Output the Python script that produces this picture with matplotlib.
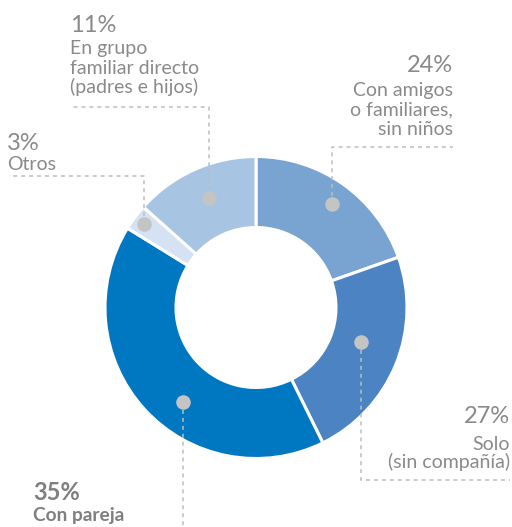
import numpy as np
import matplotlib
matplotlib.use("Agg")
import matplotlib.pyplot as plt

# share labels as printed on the chart (clockwise from 12 o'clock)
pct = [24, 27, 35, 3, 11]
names = [["Con amigos", "o familiares,", "sin niños"],
         ["Solo", "(sin compañía)"],
         ["Con pareja"],
         ["Otros"],
         ["En grupo", "familiar directo", "(padres e hijos)"]]
arc_share = [19.6, 23.1, 41.1, 2.8, 13.4]
colors = ["#79a3d1", "#4b83c3", "#0078c1", "#d4e2f3", "#a7c4e3"]

W, H = 512, 527
def Y(y):
    return H - y

plt.rcParams['font.family'] = ['Lato', 'DejaVu Sans']
fig = plt.figure(figsize=(W / 100, H / 100), dpi=100)
ax = fig.add_axes([0, 0, 1, 1])

cx, cy, R, ring = 256, 307.5, 151, 71
wedges, _ = ax.pie(arc_share, colors=colors, startangle=90, counterclock=False,
                   center=(cx, Y(cy)), radius=R,
                   wedgeprops=dict(width=ring, edgecolor="white", linewidth=2.2))
ax.set_xlim(0, W)
ax.set_ylim(0, H)
ax.axis("off")

# label layout: dot angle nudge, dot radius, leader line y, text edge x, align,
# baseline of % and baselines of the text lines
layout = [
    dict(da=-1, r=128, ly=147.3, ex=453, ha="right", pb=72, lb=[96, 115, 135], bold=False),
    dict(da=4, r=110, ly=480, ex=510, ha="right", pb=423, lb=[450, 468], bold=False),
    dict(da=10, r=120, ly=None, ex=33, ha="left", pb=500.5, lb=[521], bold=True),
    dict(da=0, r=140, ly=175.7, ex=7, ha="left", pb=150, lb=[170], bold=False),
    dict(da=-1, r=119, ly=106.7, ex=70, ha="left", pb=32, lb=[54, 74, 93], bold=False),
]

lc = "#bdbdbd"
txt = "#8a8a8a"
for w, p, nm, L in zip(wedges, pct, names, layout):
    mid = np.deg2rad((w.theta1 + w.theta2) / 2 + L["da"])
    dx = cx + L["r"] * np.cos(mid)
    dy = Y(cy) + L["r"] * np.sin(mid)
    if L["ly"] is None:
        ax.plot([dx, dx], [dy, -5], color=lc, lw=1.1, ls=(0, (2.6, 2.6)),
                clip_on=False, zorder=3)
    else:
        ax.plot([dx, dx, L["ex"] + (2 if L["ha"] == "left" else 0)],
                [dy, Y(L["ly"]), Y(L["ly"])],
                color=lc, lw=1.1, ls=(0, (2.6, 2.6)), zorder=3)
    ax.scatter([dx], [dy], s=110, color="#c4c4c4", zorder=4, linewidths=0)
    fw = "bold" if L["bold"] else "normal"
    c = "#7f7f7f" if L["bold"] else txt
    ax.text(L["ex"], Y(L["pb"]), f"{p}%", ha=L["ha"], va="baseline",
            fontsize=17, color=c, fontweight=fw)
    for s, b in zip(nm, L["lb"]):
        ax.text(L["ex"], Y(b), s, ha=L["ha"], va="baseline",
                fontsize=13.8 if L["bold"] else 14, color=c, fontweight=fw)

fig.savefig("out.png", dpi=100)
